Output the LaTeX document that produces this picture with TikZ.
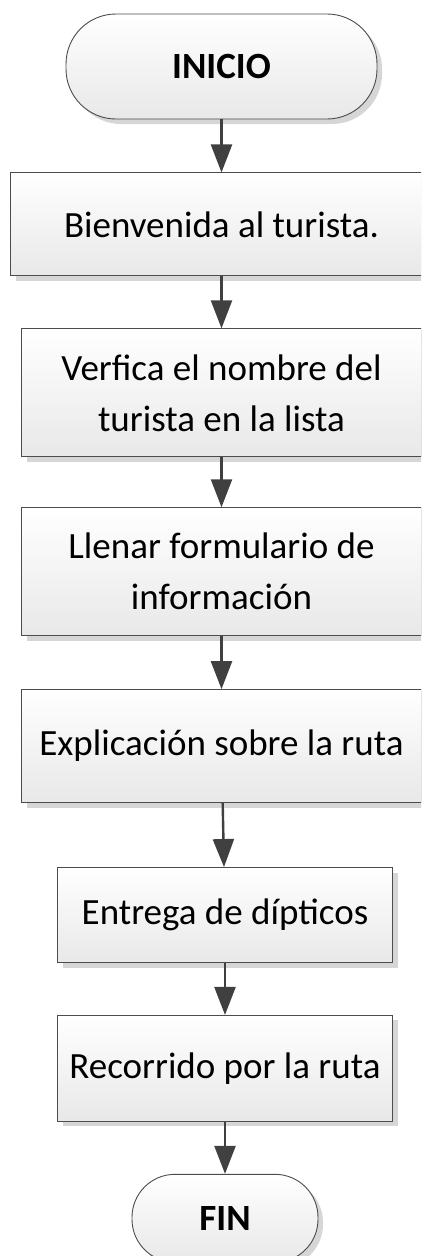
\documentclass[tikz,border=0pt]{standalone}
\usepackage{fontspec}
\setmainfont{Carlito}
\usepackage{tikz}
\usetikzlibrary{arrows.meta, positioning, shadows}

\begin{document}
\begin{tikzpicture}[
    x=1pt, y=1pt,
    node distance=53pt,
    terminal/.style={draw=black!70, line width=0.9pt, rectangle, rounded corners=50pt,
      minimum width=311pt, minimum height=105pt, inner sep=0pt,
      top color=white, bottom color=black!9,
      drop shadow={shadow xshift=5pt, shadow yshift=-5pt, fill=black!16, opacity=1},
      font=\fontsize{37pt}{51pt}\selectfont\bfseries},
    proc/.style={draw=black!70, line width=0.9pt, rectangle, align=center, inner sep=0pt,
      minimum width=400pt, top color=white, bottom color=black!9,
      drop shadow={shadow xshift=5pt, shadow yshift=-5pt, fill=black!16, opacity=1},
      font=\fontsize{37pt}{51pt}\selectfont},
    arrow/.style={line width=2.4pt, draw=black!75, -{Triangle[length=28pt, width=21pt]}}
]
\clip (0,0) rectangle (421,-1256);
\node[terminal] (inicio) at (221.5,-66.5) {INICIO};
\node[proc, below=53pt of inicio, minimum width=422pt, minimum height=103pt] (bienvenida) {Bienvenida al turista.};
\node[proc, below=52pt of bienvenida, minimum height=128pt] (verifica) {Verfica el nombre del\\turista en la lista};
\node[proc, below=50pt of verifica, minimum height=128pt] (formulario) {Llenar formulario de\\información};
\node[proc, below=53pt of formulario, minimum height=113pt] (explicacion) {Explicación sobre la ruta};
\node[proc, below=64pt of explicacion, xshift=3.5pt, minimum width=335pt, minimum height=95pt] (dipticos) {Entrega de dípticos};
\node[proc, below=52pt of dipticos, minimum width=335pt, minimum height=106pt] (recorrido) {Recorrido por la ruta};
\node[terminal, below=52pt of recorrido, minimum width=186pt, minimum height=88pt, rounded corners=43pt] (fin) {FIN};

\draw[arrow] (inicio) -- (bienvenida);
\draw[arrow] (bienvenida) -- (verifica);
\draw[arrow] (verifica) -- (formulario);
\draw[arrow] (formulario) -- (explicacion);
\draw[arrow] (explicacion) -- (dipticos);
\draw[arrow] (dipticos) -- (recorrido);
\draw[arrow] (recorrido) -- (fin);
\end{tikzpicture}
\end{document}
